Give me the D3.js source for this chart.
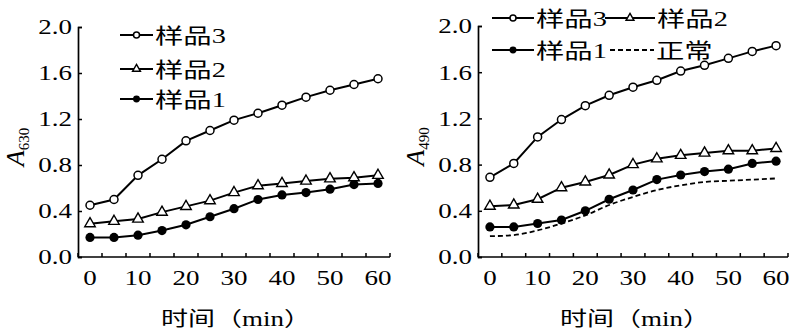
<!DOCTYPE html>
<html>
<head>
<meta charset="utf-8">
<script src="https://cdn.jsdelivr.net/npm/d3@7"></script>
<style>
  body { margin: 0; background: #fff; }
  svg { display: block; }
</style>
</head>
<body>
<div id="chart"></div>
<script>
// time points (min)
const times = [0, 5, 10, 15, 20, 25, 30, 35, 40, 45, 50, 55, 60]
const xTickLabels = [0, 10, 20, 30, 40, 50, 60]
const yTicks = [0, 0.4, 0.8, 1.2, 1.6, 2.0]

// left panel, A630
const a630Sample3 = [0.45, 0.50, 0.71, 0.85, 1.01, 1.10, 1.19, 1.25, 1.32, 1.39, 1.45, 1.50, 1.55]
const a630Sample2 = [0.29, 0.31, 0.33, 0.39, 0.44, 0.49, 0.56, 0.62, 0.64, 0.66, 0.68, 0.69, 0.71]
const a630Sample1 = [0.17, 0.17, 0.19, 0.23, 0.28, 0.35, 0.42, 0.50, 0.54, 0.56, 0.59, 0.63, 0.64]

// right panel, A490
const a490Sample3 = [0.69, 0.81, 1.04, 1.19, 1.31, 1.40, 1.47, 1.53, 1.61, 1.66, 1.72, 1.78, 1.83]
const a490Sample2 = [0.44, 0.45, 0.50, 0.60, 0.65, 0.71, 0.80, 0.85, 0.88, 0.90, 0.92, 0.92, 0.94]
const a490Sample1 = [0.26, 0.26, 0.29, 0.32, 0.40, 0.50, 0.58, 0.67, 0.71, 0.74, 0.76, 0.81, 0.83]
const a490Normal  = [0.18, 0.19, 0.23, 0.29, 0.36, 0.45, 0.52, 0.58, 0.62, 0.65, 0.66, 0.67, 0.68]

const width = 800, height = 332
const SX = 1.35 // the source picture is stretched sideways
const serif = "'Liberation Serif','Noto Sans CJK SC',serif"

const svg = d3.select('#chart').append('svg')
  .attr('width', width)
  .attr('height', height)

function txt(g, x, y, s, size, anchor) {
  return g.append('text')
    .attr('transform', `translate(${x},${y}) scale(${SX},1)`)
    .attr('text-anchor', anchor || 'start')
    .attr('font-family', serif)
    .attr('font-size', size)
    .attr('fill', '#000')
    .text(s)
}

function marker(g, type, x, y, small) {
  const k = small ? 0.75 : 1
  if (type === 'open') {
    g.append('circle').attr('cx', x).attr('cy', y).attr('r', 4 * k)
      .attr('fill', '#fff').attr('stroke', '#000').attr('stroke-width', 1.5)
  } else if (type === 'tri') {
    g.append('path')
      .attr('d', d3.symbol(d3.symbolTriangle, 48 * k * k)())
      .attr('transform', `translate(${x},${y})`)
      .attr('fill', '#fff').attr('stroke', '#000').attr('stroke-width', 1.4)
  } else if (type === 'dot') {
    g.append('circle').attr('cx', x).attr('cy', y).attr('r', 4.6 * k)
      .attr('fill', '#000')
  }
}

function panel(opts) {
  const { left, right, top, bottom, series, legend, ylabel, sub } = opts
  const g = svg.append('g')

  const x = d3.scaleBand().domain(times).range([left, right]).paddingInner(0).paddingOuter(0)
  const y = d3.scaleLinear().domain([0, 2]).range([bottom, top])
  const cx = d => x(d) + x.bandwidth() / 2

  // y axis, ticks point inward
  const yAxis = g.append('g')
    .attr('transform', `translate(${left},0)`)
    .call(d3.axisLeft(y).tickValues(yTicks).tickSize(-4).tickPadding(8 / SX).tickFormat(d3.format('.1f')))
  yAxis.select('.domain').attr('stroke-width', 1.7)
  yAxis.selectAll('.tick line').attr('stroke-width', 1.5)
  yAxis.selectAll('.tick text')
    .attr('x', -6 / SX)
    .attr('transform', `scale(${SX},1)`)
    .attr('font-family', serif).attr('font-size', 20).attr('dy', '0.34em')

  // x axis: line, boundary ticks pointing up, labels every 10 min
  g.append('line').attr('x1', left).attr('x2', right).attr('y1', bottom).attr('y2', bottom)
    .attr('stroke', '#000').attr('stroke-width', 1.7)
  const bounds = times.map(t => x(t)).concat([right])
  g.selectAll('line.xt').data(bounds).join('line')
    .attr('class', 'xt')
    .attr('x1', d => d).attr('x2', d => d)
    .attr('y1', bottom).attr('y2', bottom - 4)
    .attr('stroke', '#000').attr('stroke-width', 1.5)
  xTickLabels.forEach(t => txt(g, cx(t), bottom + 28, String(t), 20, 'middle'))

  // axis titles
  txt(g, (left + right) / 2 + 2, 326, '时间（min）', 20, 'middle')
  const yl = g.append('text')
    .attr('transform', `translate(${left - 54},${(top + bottom) / 2 + 5}) rotate(-90)`)
    .attr('text-anchor', 'middle')
    .attr('font-family', serif)
  yl.append('tspan').attr('font-style', 'italic').attr('font-size', 26).text(ylabel)
  yl.append('tspan').attr('font-size', 15).attr('dy', 5).text(sub)

  // series
  series.forEach(s => {
    const line = d3.line().x((d, i) => cx(times[i])).y(d => y(d))
    if (s.dashed) line.curve(d3.curveMonotoneX)
    g.append('path').datum(s.values)
      .attr('d', line)
      .attr('fill', 'none')
      .attr('stroke', '#000')
      .attr('stroke-width', s.dashed ? 1.8 : 2)
      .attr('stroke-dasharray', s.dashed ? '5,3' : null)
    if (s.marker) s.values.forEach((v, i) => marker(g, s.marker, cx(times[i]), y(v)))
  })

  // legend
  legend.forEach(l => {
    const s = series.find(d => d.name === l.name)
    g.append('line').attr('x1', l.x).attr('x2', l.x + l.w).attr('y1', l.y).attr('y2', l.y)
      .attr('stroke', '#000').attr('stroke-width', 2)
      .attr('stroke-dasharray', s.dashed ? '5,3' : null)
    if (s.marker) marker(g, s.marker, l.x + l.w / 2, l.y, true)
    txt(g, l.x + l.w + 2, l.y + 8, l.name, 21, 'start')
  })
}

panel({
  left: 78, right: 390, top: 27, bottom: 257,
  ylabel: 'A', sub: '630',
  series: [
    { name: '样品3', values: a630Sample3, marker: 'open' },
    { name: '样品2', values: a630Sample2, marker: 'tri' },
    { name: '样品1', values: a630Sample1, marker: 'dot' }
  ],
  legend: [
    { name: '样品3', x: 120, y: 35, w: 33 },
    { name: '样品2', x: 120, y: 69, w: 33 },
    { name: '样品1', x: 120, y: 99, w: 33 }
  ]
})

panel({
  left: 478, right: 788, top: 26, bottom: 257,
  ylabel: 'A', sub: '490',
  series: [
    { name: '样品3', values: a490Sample3, marker: 'open' },
    { name: '样品2', values: a490Sample2, marker: 'tri' },
    { name: '样品1', values: a490Sample1, marker: 'dot' },
    { name: '正常', values: a490Normal, dashed: true }
  ],
  legend: [
    { name: '样品3', x: 492, y: 18, w: 42 },
    { name: '样品2', x: 605, y: 18, w: 50 },
    { name: '样品1', x: 492, y: 50, w: 42 },
    { name: '正常', x: 610, y: 50, w: 44 }
  ]
})
</script>
</body>
</html>
